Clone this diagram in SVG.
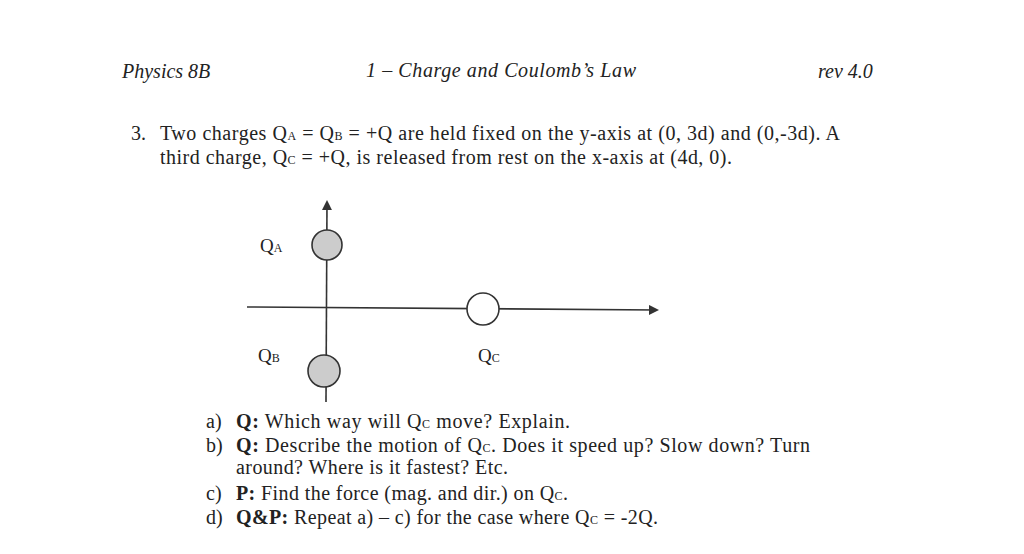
<svg xmlns="http://www.w3.org/2000/svg" width="1024" height="554" viewBox="0 0 1024 554">
<style>
text{font-family:"Liberation Serif",serif;fill:#222}
.h{font-style:italic;font-size:20px}
.t{font-size:20px}
.l{font-size:19px}
.s{font-size:12px}
.ax{stroke:#333;stroke-width:1.6;fill:none}
.ch{stroke:#333;stroke-width:1.6;fill:#ccc}
</style>
<defs><marker id="ar" markerWidth="10" markerHeight="10" refX="8" refY="5" orient="auto" markerUnits="userSpaceOnUse"><path d="M0,0L10,5L0,10Z" fill="#333"/></marker></defs>
<rect width="1024" height="554" fill="#fff"/>
<text class="h" x="122" y="78">Physics 8B</text>
<text class="h" x="366" y="77" textLength="270">1 – Charge and Coulomb’s Law</text>
<text class="h" x="818" y="78">rev 4.0</text>
<text class="t" x="131" y="140">3.</text>
<text class="t" x="160" y="140" textLength="680">Two charges Q<tspan class="s">A</tspan> = Q<tspan class="s">B</tspan> = +Q are held fixed on the y-axis at (0, 3d) and (0,-3d).  A</text>
<text class="t" x="160" y="164" textLength="572">third charge, Q<tspan class="s">C</tspan> = +Q, is released from rest on the x-axis at (4d, 0).</text>
<g id="connectors">
<line class="ax" x1="326" y1="402" x2="327" y2="202" marker-end="url(#ar)"/>
<line class="ax" x1="247" y1="307" x2="657" y2="310" marker-end="url(#ar)"/>
</g>
<g id="QA"><circle class="ch" cx="327" cy="245" r="15"/><text class="l" x="260" y="252">Q<tspan class="s">A</tspan></text></g>
<g id="QB"><circle class="ch" cx="324" cy="371" r="16"/><text class="l" x="258" y="362">Q<tspan class="s">B</tspan></text></g>
<g id="QC"><circle cx="483" cy="309" r="16" fill="#fff" stroke="#333" stroke-width="1.6"/><text class="l" x="478" y="362">Q<tspan class="s">C</tspan></text></g>
<text class="t" x="206" y="428">a)</text><text class="t" x="236" y="428" textLength="334"><tspan font-weight="bold">Q:</tspan> Which way will Q<tspan class="s">C</tspan> move?  Explain.</text>
<text class="t" x="206" y="452">b)</text><text class="t" x="236" y="452" textLength="574"><tspan font-weight="bold">Q:</tspan> Describe the motion of Q<tspan class="s">C</tspan>.  Does it speed up? Slow down? Turn</text>
<text class="t" x="236" y="474" textLength="272">around? Where is it fastest? Etc.</text>
<text class="t" x="206" y="500">c)</text><text class="t" x="236" y="500" textLength="332"><tspan font-weight="bold">P:</tspan> Find the force (mag. and dir.) on Q<tspan class="s">C</tspan>.</text>
<text class="t" x="206" y="524">d)</text><text class="t" x="236" y="524" textLength="422"><tspan font-weight="bold">Q&amp;P:</tspan> Repeat a) – c) for the case where Q<tspan class="s">C</tspan> = -2Q.</text>
</svg>
